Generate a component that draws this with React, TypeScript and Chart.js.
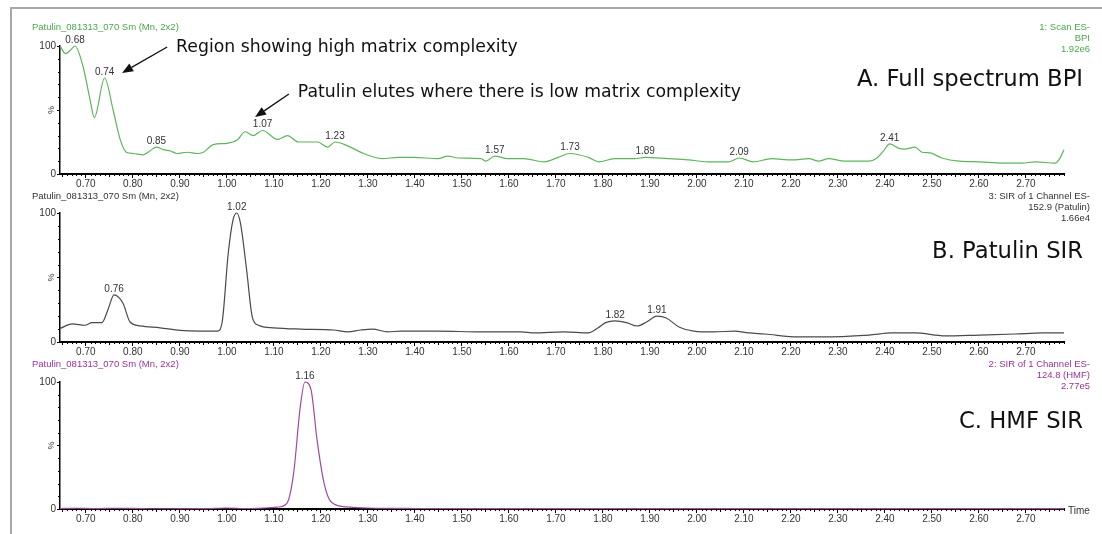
import React, { useEffect, useRef } from 'react';
import { Chart, registerables } from 'chart.js';

Chart.register(...registerables);

// ---------- data ----------
const timeMin = 0.645;
const timeMax = 2.781;

const bpiTime = [
  0.645, 0.657, 0.668, 0.677, 0.694, 0.709, 0.718, 0.74, 0.758, 0.773, 0.786, 0.801, 0.822, 0.836, 0.85,
  0.865, 0.88, 0.894, 0.916, 0.937, 0.95, 0.971, 1.0, 1.022, 1.039, 1.056, 1.076, 1.108, 1.129, 1.152,
  1.193, 1.214, 1.23, 1.257, 1.291, 1.33, 1.364, 1.398, 1.449, 1.47, 1.492, 1.541, 1.551, 1.57, 1.598,
  1.632, 1.675, 1.705, 1.73, 1.769, 1.792, 1.824, 1.867, 1.89, 1.939, 1.982, 2.024, 2.067, 2.09, 2.12,
  2.159, 2.202, 2.238, 2.259, 2.28, 2.314, 2.366, 2.383, 2.397, 2.41, 2.43, 2.442, 2.464, 2.479, 2.496,
  2.521, 2.558, 2.6, 2.649, 2.692, 2.72, 2.762, 2.772, 2.781,
];
const bpiIntensity = [
  100, 94, 97, 100, 84, 58, 44, 75, 50, 27, 17, 16, 15, 18, 21,
  19, 18, 16, 17, 16, 17, 23, 24, 26.5, 33, 30, 34, 27, 30, 25,
  25, 21, 25, 22, 16, 12, 13, 13, 12, 14, 12.5, 12, 10, 14, 12,
  12, 9.5, 13, 16, 13, 9.5, 12, 12, 13, 12, 11, 9.5, 9.5, 12.5, 9.5,
  12, 11, 12, 10, 12, 10, 10, 12.5, 18, 23.5, 20, 19.5, 21, 17, 16.5,
  12.5, 10, 9.5, 8.5, 8.5, 9.5, 8.5, 12, 19,
];
const bpiPeaks = [0.68, 0.74, 0.85, 1.07, 1.23, 1.57, 1.73, 1.89, 2.09, 2.41];

const patulinTime = [
  0.645, 0.671, 0.698, 0.713, 0.734, 0.747, 0.76, 0.779, 0.794, 0.816, 0.858, 0.901, 0.944, 0.98, 0.99,
  1.003, 1.013, 1.021, 1.029, 1.042, 1.054, 1.067, 1.099, 1.157, 1.227, 1.257, 1.285, 1.31, 1.342, 1.37,
  1.449, 1.541, 1.626, 1.654, 1.717, 1.769, 1.79, 1.806, 1.826, 1.85, 1.873, 1.893, 1.915, 1.935, 1.962,
  1.993, 2.037, 2.08, 2.11, 2.144, 2.216, 2.265, 2.366, 2.415, 2.464, 2.528, 2.6, 2.677, 2.735, 2.781,
];
const patulinIntensity = [
  10.5, 14, 13, 15, 15, 25, 36.5, 30, 15.5, 12.5, 11, 9, 8.5, 8.5, 15.5,
  69, 94.5, 100, 92, 56, 19.5, 13, 11, 10, 9.3, 7.8, 9.3, 10, 7.8, 8.5,
  8.5, 7.8, 7.8, 7, 7.8, 7, 11, 15, 16.3, 15, 12.4, 15.5, 20, 18.6, 11.6,
  8.5, 7.8, 8.5, 7, 6.2, 3.9, 3.9, 5.4, 7, 7, 4.7, 5.4, 6.2, 7, 7,
];
const patulinPeaks = [0.76, 1.02, 1.82, 1.91];

const hmfTime = [
  0.645, 0.68, 0.72, 0.76, 0.8, 0.85, 0.95, 1.0, 1.04, 1.08, 1.108, 1.128, 1.142, 1.156, 1.166,
  1.179, 1.192, 1.207, 1.222, 1.254, 1.3, 1.4, 1.6, 1.9, 2.2, 2.5, 2.781,
];
const hmfIntensity = [
  0.3, 0.6, 0.3, 0.6, 0.5, 0.2, 0.3, 0.8, 0.4, 0.8, 1.5, 4.7, 28, 80, 100,
  94, 54, 20, 5.5, 1.6, 0.8, 0.4, 0.3, 0.3, 0.3, 0.3, 0.3,
];
const hmfPeaks = [1.16];

const fileLabel = 'Patulin_081313_070 Sm (Mn, 2x2)';
const bpiInfo = ['1: Scan ES-', 'BPI', '1.92e6'];
const patulinInfo = ['3: SIR of 1 Channel ES-', '152.9 (Patulin)', '1.66e4'];
const hmfInfo = ['2: SIR of 1 Channel ES-', '124.8 (HMF)', '2.77e5'];
const panelTitles = ['A. Full spectrum BPI', 'B. Patulin SIR', 'C. HMF SIR'];

const noteTexts = ['Region showing high matrix complexity', 'Patulin elutes where there is low matrix complexity'];
// anchors in data coordinates (time, %)
const noteTextAt = [[0.892, 99.2], [1.151, 63.3]];
const noteArrowFrom = [[0.873, 99.2], [1.132, 62.5]];
const noteArrowTo = [[0.777, 79], [1.06, 44.5]];

// ---------- layout ----------
const SMALL_FONT = "'Liberation Sans', Arial, sans-serif";
const BIG_FONT = "'DejaVu Sans', Verdana, sans-serif";

type Panel = {
  top: number;
  height: number;
  padTop: number;
  padBottom: number;
  headerY: number;
  time: number[];
  intensity: number[];
  peaks: number[];
  line: string;
  text: string;
  info: string[];
  title: string;
  titleY: number;
  notes: boolean;
  showTimeLabel: boolean;
};

const panels: Panel[] = [
  { top: 0, height: 190, padTop: 46, padBottom: 0, headerY: 27, time: bpiTime, intensity: bpiIntensity, peaks: bpiPeaks,
    line: '#5db55d', text: '#4aa84a', info: bpiInfo, title: panelTitles[0], titleY: 80, notes: true, showTimeLabel: false },
  { top: 180, height: 178, padTop: 33, padBottom: 0, headerY: 16, time: patulinTime, intensity: patulinIntensity, peaks: patulinPeaks,
    line: '#4a4a4a', text: '#333333', info: patulinInfo, title: panelTitles[1], titleY: 72, notes: false, showTimeLabel: false },
  { top: 350, height: 184, padTop: 32, padBottom: 9, headerY: 14, time: hmfTime, intensity: hmfIntensity, peaks: hmfPeaks,
    line: '#a04aa0', text: '#993399', info: hmfInfo, title: panelTitles[2], titleY: 72, notes: false, showTimeLabel: true },
];

function apexIndex(time: number[], inten: number[], t: number) {
  let best = -1;
  for (let i = 0; i < time.length; i++) {
    if (Math.abs(time[i] - t) <= 0.013 && (best < 0 || inten[i] > inten[best])) best = i;
  }
  return best;
}

function makeDecor(p: Panel) {
  return {
    id: 'decor',
    afterDraw(chart: any) {
      const ctx = chart.ctx as CanvasRenderingContext2D;
      const xs = chart.scales.x;
      const ys = chart.scales.y;
      const area = chart.chartArea;
      ctx.save();
      // minor ticks x
      ctx.strokeStyle = '#000';
      ctx.lineWidth = 1;
      ctx.beginPath();
      for (let k = Math.ceil(timeMin * 100); k <= Math.floor(timeMax * 100); k++) {
        if (k % 10 === 0) continue;
        const px = Math.round(xs.getPixelForValue(k / 100)) + 0.5;
        const len = k % 5 === 0 ? 3 : 2;
        ctx.moveTo(px, area.bottom);
        ctx.lineTo(px, area.bottom + len);
      }
      // minor ticks y
      for (let v = 10; v < 100; v += 10) {
        if (v === 50) continue;
        const py = Math.round(ys.getPixelForValue(v)) + 0.5;
        ctx.moveTo(area.left - 2, py);
        ctx.lineTo(area.left, py);
      }
      ctx.stroke();

      // % label
      ctx.fillStyle = '#333';
      ctx.font = `9px ${SMALL_FONT}`;
      ctx.save();
      ctx.translate(area.left - 8, ys.getPixelForValue(50));
      ctx.rotate(-Math.PI / 2);
      ctx.textAlign = 'center';
      ctx.textBaseline = 'middle';
      ctx.fillText('%', 0, 0);
      ctx.restore();

      // header left
      ctx.font = `9.5px ${SMALL_FONT}`;
      ctx.fillStyle = p.text;
      ctx.textAlign = 'left';
      ctx.textBaseline = 'middle';
      ctx.fillText(fileLabel, 32, p.headerY);
      // header right
      ctx.textAlign = 'right';
      p.info.forEach((s, i) => ctx.fillText(s, 1090, p.headerY + 0.5 + i * 10.8));

      // peak labels
      ctx.font = `10px ${SMALL_FONT}`;
      ctx.fillStyle = '#333';
      ctx.textAlign = 'center';
      ctx.textBaseline = 'bottom';
      p.peaks.forEach((t) => {
        const i = apexIndex(p.time, p.intensity, t);
        if (i < 0) return;
        ctx.fillText(t.toFixed(2), xs.getPixelForValue(p.time[i]), ys.getPixelForValue(p.intensity[i]) - 1);
      });

      // big title
      ctx.fillStyle = '#111';
      ctx.font = `22.7px ${BIG_FONT}`;
      ctx.textAlign = 'right';
      ctx.textBaseline = 'middle';
      ctx.fillText(p.title, 1083, p.titleY);

      // annotations
      if (p.notes) {
        ctx.font = `17.3px ${BIG_FONT}`;
        ctx.textAlign = 'left';
        noteTexts.forEach((s, i) => {
          ctx.fillStyle = '#111';
          ctx.fillText(s, xs.getPixelForValue(noteTextAt[i][0]), ys.getPixelForValue(noteTextAt[i][1]));
          const x1 = xs.getPixelForValue(noteArrowFrom[i][0]);
          const y1 = ys.getPixelForValue(noteArrowFrom[i][1]);
          const x2 = xs.getPixelForValue(noteArrowTo[i][0]);
          const y2 = ys.getPixelForValue(noteArrowTo[i][1]);
          const ang = Math.atan2(y2 - y1, x2 - x1);
          const hl = 11, hw = 4.5;
          const bx = x2 - hl * Math.cos(ang), by = y2 - hl * Math.sin(ang);
          ctx.strokeStyle = '#111';
          ctx.lineWidth = 1.3;
          ctx.beginPath();
          ctx.moveTo(x1, y1);
          ctx.lineTo(bx, by);
          ctx.stroke();
          ctx.beginPath();
          ctx.moveTo(x2, y2);
          ctx.lineTo(bx + hw * Math.sin(ang), by - hw * Math.cos(ang));
          ctx.lineTo(bx - hw * Math.sin(ang), by + hw * Math.cos(ang));
          ctx.closePath();
          ctx.fill();
        });
      }

      if (p.showTimeLabel) {
        ctx.fillStyle = '#333';
        ctx.font = `10px ${SMALL_FONT}`;
        ctx.textAlign = 'left';
        ctx.textBaseline = 'middle';
        ctx.fillText('Time', area.right + 4, area.bottom + 2);
      }
      ctx.restore();
    },
  };
}

function PanelChart({ p }: { p: Panel }) {
  const ref = useRef<HTMLCanvasElement | null>(null);
  useEffect(() => {
    if (!ref.current) return;
    const chart = new Chart(ref.current, {
      type: 'line',
      data: {
        datasets: [
          {
            data: p.time.map((t, i) => ({ x: t, y: p.intensity[i] })),
            borderColor: p.line,
            borderWidth: 1.2,
            pointRadius: 0,
            fill: false,
            cubicInterpolationMode: 'monotone',
            clip: 6,
          } as any,
        ],
      },
      options: {
        animation: false,
        responsive: false,
        events: [],
        layout: { padding: { top: p.padTop, bottom: p.padBottom, left: 10, right: 38 } },
        plugins: { legend: { display: false }, tooltip: { enabled: false }, title: { display: false } },
        scales: {
          x: {
            type: 'linear',
            min: timeMin,
            max: timeMax,
            afterFit: (s: any) => { s.height = 16; },
            ticks: {
              stepSize: 0.1,
              includeBounds: false,
              autoSkip: false,
              maxRotation: 0,
              padding: 0,
              color: '#333',
              font: { size: 10, family: SMALL_FONT },
              callback: (v: any) => Number(v).toFixed(2),
            },
            grid: { drawOnChartArea: false, drawTicks: true, tickLength: 4, tickColor: '#000', tickWidth: 1 },
            border: { display: true, color: '#000', width: 2 },
          },
          y: {
            type: 'linear',
            min: 0,
            max: 100,
            afterFit: (s: any) => { s.width = 50; },
            ticks: {
              stepSize: 50,
              padding: 1,
              color: '#333',
              font: { size: 10, family: SMALL_FONT },
              callback: (v: any) => (v === 100 ? '100' : v === 0 ? '0' : ''),
            },
            grid: { drawOnChartArea: false, drawTicks: true, tickLength: 3, tickColor: '#000', tickWidth: 1 },
            border: { display: true, color: '#000', width: 1.5 },
          },
        },
      } as any,
      plugins: [makeDecor(p)],
    });
    return () => chart.destroy();
  }, [p]);
  return (
    <canvas
      ref={ref}
      width={1102}
      height={p.height}
      style={{ position: 'absolute', left: 0, top: p.top, width: 1102, height: p.height, display: 'block' }}
    />
  );
}

export default function App() {
  return (
    <div style={{ position: 'absolute', left: 0, top: 0, width: 1102, height: 534, background: '#fff', overflow: 'hidden' }}>
      <div
        style={{
          position: 'absolute', left: 10, top: 7, right: 0, bottom: 0,
          borderTop: '2px solid #a8a8a8', borderLeft: '2px solid #a8a8a8',
        }}
      />
      {panels.map((p, i) => (
        <PanelChart key={i} p={p} />
      ))}
    </div>
  );
}
